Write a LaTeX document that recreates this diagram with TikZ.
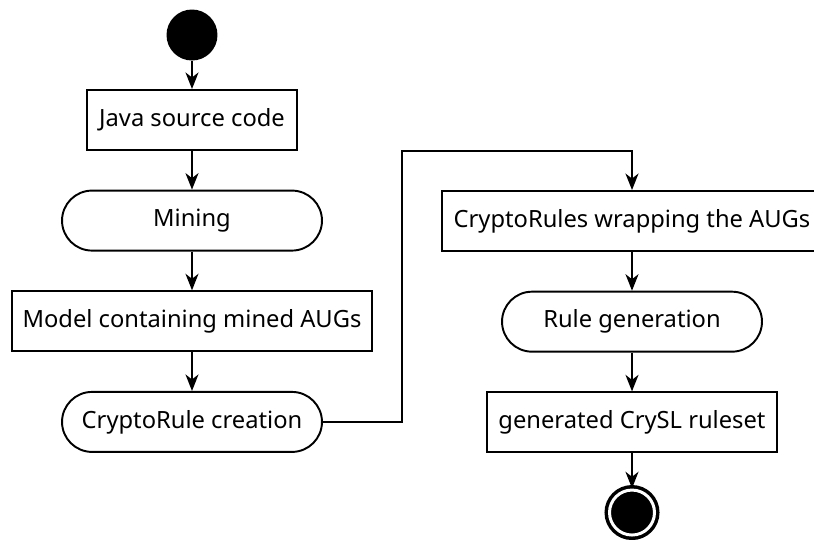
\documentclass[tikz,border=0pt]{standalone}
\usepackage{fontspec}
\setmainfont{Noto Sans}
\usetikzlibrary{arrows.meta,positioning}

\begin{document}
\begin{tikzpicture}[
  x=0.02cm, y=-0.02cm,
  font=\fontsize{13.5}{16}\selectfont,
  line width=1.1pt,
  artifact/.style={draw, rectangle, minimum height=1.2cm, inner sep=0pt},
  action/.style={draw, rectangle, rounded corners=0.6cm, minimum height=1.2cm, inner sep=0pt},
  startnode/.style={circle, fill=black, minimum size=1.02cm, inner sep=0pt},
  endnode/.style={circle, fill=black, draw=black, double=white, double distance=1.7pt, line width=2pt, minimum size=0.9cm, inner sep=0pt},
  arr/.style={-{Stealth[length=3.3mm, width=2.6mm, inset=1mm]}},
  node distance=7.75mm
]
\useasboundingbox (0,0) rectangle (814,539);
% left column
\node[startnode] (start) at (192,35) {};
\node[artifact, minimum width=4.2cm, below=5.5mm of start] (src) {Java source code};
\node[action, minimum width=5.2cm, below=of src] (mining) {Mining};
\node[artifact, minimum width=7.2cm, below=of mining] (model) {Model containing mined AUGs};
\node[action, minimum width=5.2cm, below=of model] (create) {CryptoRule creation};
% right column
\node[artifact, minimum width=7.6cm] (wrap) at (632,221) {CryptoRules wrapping the AUGs};
\node[action, minimum width=5.2cm, below=of wrap] (gen) {Rule generation};
\node[artifact, minimum width=5.8cm, below=of gen] (crysl) {generated CrySL ruleset};
\node[endnode, below=7mm of crysl] (stop) {};
\coordinate (bend) at (402,151);

\draw[arr] (start) -- (src);
\draw[arr] (src) -- (mining);
\draw[arr] (mining) -- (model);
\draw[arr] (model) -- (create);
\draw[arr] (create.east) -| (bend) -| (wrap.north);
\draw[arr] (wrap) -- (gen);
\draw[arr] (gen) -- (crysl);
\draw[arr] (crysl) -- (stop);
\end{tikzpicture}
\end{document}
